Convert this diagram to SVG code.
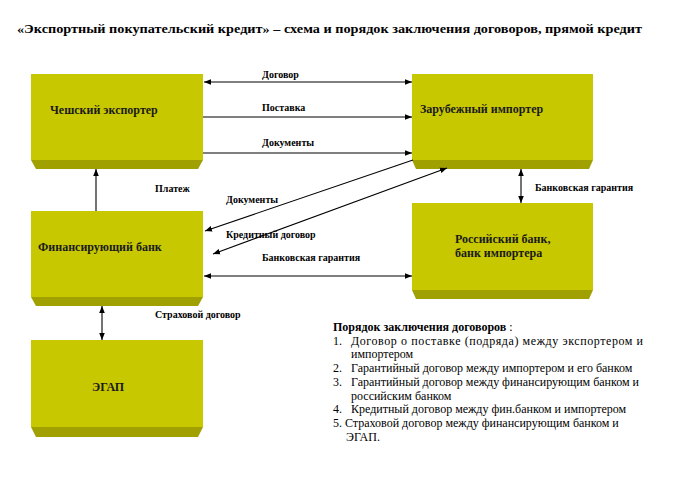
<svg xmlns="http://www.w3.org/2000/svg" width="680" height="480" viewBox="0 0 680 480">
<defs>
<marker id="ah" viewBox="0 0 10 10" refX="10" refY="5" markerWidth="7" markerHeight="7" orient="auto-start-reverse" markerUnits="userSpaceOnUse">
<path d="M0,1 L10,5 L0,9 Z" fill="#000"/>
</marker>
<style>
.face{fill:#C8C800}
.bev{fill:#A0A000}
.nt{font-family:"Liberation Serif","Times New Roman",serif;font-weight:bold;font-size:12px;fill:#1a1a1a}
.lb{font-family:"Liberation Serif","Times New Roman",serif;font-weight:bold;font-size:10px;fill:#000}
.ls{font-family:"Liberation Serif","Times New Roman",serif;font-size:12px;fill:#000}
.cn{stroke:#000;stroke-width:1.1;fill:none}
</style>
</defs>
<rect width="680" height="480" fill="#fff"/>
<text x="17" y="33" font-family="'Liberation Serif','Times New Roman',serif" font-weight="bold" font-size="13.5" textLength="625" lengthAdjust="spacingAndGlyphs">«Экспортный покупательский кредит» – схема и порядок заключения договоров, прямой кредит</text>

<g id="exporter">
<polygon class="bev" points="31,160 203,160 198,169 36,169"/>
<rect class="face" x="31" y="74" width="172" height="86"/>
<text class="nt" x="50" y="114">Чешский экспортер</text>
</g>
<g id="importer">
<polygon class="bev" points="412,160 593,160 589,169 416,169"/>
<rect class="face" x="412" y="74" width="181" height="86"/>
<text class="nt" x="420" y="113">Зарубежный импортер</text>
</g>
<g id="finbank">
<polygon class="bev" points="31,297 203,297 198,306 36,306"/>
<rect class="face" x="31" y="211" width="172" height="86"/>
<text class="nt" x="38" y="251">Финансирующий банк</text>
</g>
<g id="rusbank">
<polygon class="bev" points="412,290 593,290 589,299 416,299"/>
<rect class="face" x="412" y="203" width="181" height="87"/>
<text class="nt" x="455" y="243">Российский банк,</text>
<text class="nt" x="455" y="257">банк импортера</text>
</g>
<g id="egap">
<polygon class="bev" points="31,427 203,427 198,437 36,437"/>
<rect class="face" x="31" y="340" width="172" height="87"/>
<text class="nt" x="92" y="391">ЭГАП</text>
</g>

<g id="connectors">
<line class="cn" x1="204" y1="82" x2="412" y2="82" marker-start="url(#ah)" marker-end="url(#ah)"/>
<line class="cn" x1="203" y1="117" x2="412" y2="117" marker-end="url(#ah)"/>
<line class="cn" x1="203" y1="153" x2="412" y2="153" marker-end="url(#ah)"/>
<line class="cn" x1="413" y1="160" x2="205" y2="231" marker-end="url(#ah)"/>
<line class="cn" x1="447" y1="168" x2="213" y2="254" marker-start="url(#ah)" marker-end="url(#ah)"/>
<line class="cn" x1="204" y1="276" x2="412" y2="276" marker-start="url(#ah)" marker-end="url(#ah)"/>
<line class="cn" x1="521" y1="169" x2="521" y2="203" marker-start="url(#ah)" marker-end="url(#ah)"/>
<line class="cn" x1="96" y1="211" x2="96" y2="169" marker-end="url(#ah)"/>
<line class="cn" x1="102" y1="306" x2="102" y2="340" marker-start="url(#ah)" marker-end="url(#ah)"/>
<text class="lb" x="262" y="78">Договор</text>
<text class="lb" x="262" y="111">Поставка</text>
<text class="lb" x="262" y="146">Документы</text>
<text class="lb" x="155" y="192">Платеж</text>
<text class="lb" x="226" y="203">Документы</text>
<text class="lb" x="226" y="238">Кредитный договор</text>
<text class="lb" x="262" y="261">Банковская гарантия</text>
<text class="lb" x="535" y="191">Банковская гарантия</text>
<text class="lb" x="155" y="318">Страховой  договор</text>
</g>

<g id="legend">
<text class="ls" x="333" y="331" font-weight="bold">Порядок заключения договоров <tspan font-weight="normal">:</tspan></text>
<text class="ls" x="333" y="345">1.</text>
<text class="ls" x="351" y="345" textLength="292" lengthAdjust="spacing">Договор о поставке (подряда) между экспортером и</text>
<text class="ls" x="351" y="358">импортером</text>
<text class="ls" x="333" y="372">2.</text>
<text class="ls" x="351" y="372">Гарантийный  договор между импортером и его банком</text>
<text class="ls" x="333" y="386">3.</text>
<text class="ls" x="351" y="386" textLength="288" lengthAdjust="spacing">Гарантийный  договор между финансирующим  банком и</text>
<text class="ls" x="351" y="400">российским  банком</text>
<text class="ls" x="333" y="413">4.</text>
<text class="ls" x="351" y="413">Кредитный  договор между фин.банком  и импортером</text>
<text class="ls" x="333" y="427">5. Страховой договор между финансирующим  банком и</text>
<text class="ls" x="346" y="441">ЭГАП.</text>
</g>
</svg>
